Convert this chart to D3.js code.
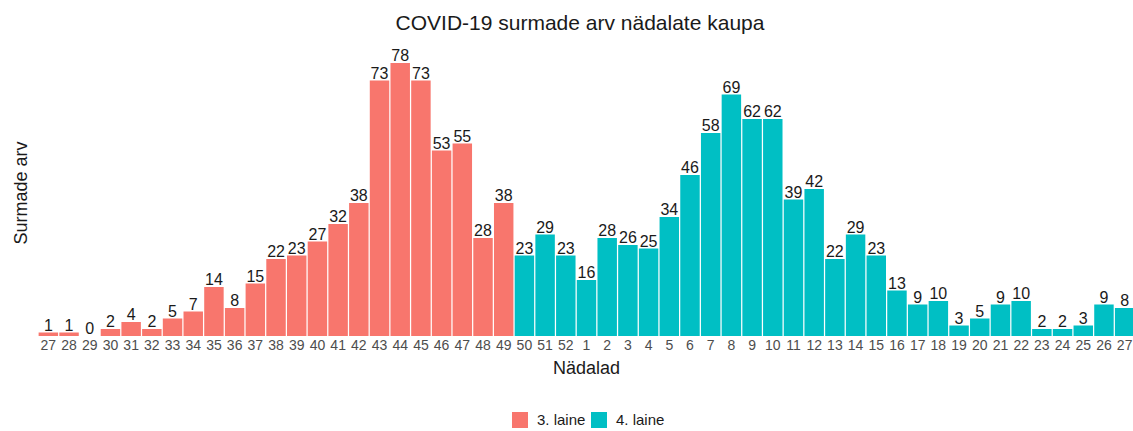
<!DOCTYPE html>
<html>
<head>
<meta charset="utf-8">
<script src="https://cdn.jsdelivr.net/npm/d3@7"></script>
<style>
  body { margin: 0; background: #fff; }
  text { font-family: "Liberation Sans", Arial, sans-serif; }
</style>
</head>
<body>
<svg id="mainsvg" width="1133" height="431"></svg>
<script>
// week labels and deaths, in order
const weeks3 = ["27","28","29","30","31","32","33","34","35","36","37","38","39","40","41","42","43","44","45","46","47","48","49"];
const deaths3 = [1,1,0,2,4,2,5,7,14,8,15,22,23,27,32,38,73,78,73,53,55,28,38];
const weeks4 = ["50","51","52","1","2","3","4","5","6","7","8","9","10","11","12","13","14","15","16","17","18","19","20","21","22","23","24","25","26","27"];
const deaths4 = [23,29,23,16,28,26,25,34,46,58,69,62,62,39,42,22,29,23,13,9,10,3,5,9,10,2,2,3,9,8];
const waves = ["3. laine", "4. laine"];
const colors = ["#f8766d", "#00bfc4"];

const data = [];
weeks3.forEach((w, i) => data.push({key: "a" + w, week: w, value: deaths3[i], wave: waves[0]}));
weeks4.forEach((w, i) => data.push({key: "b" + w, week: w, value: deaths4[i], wave: waves[1]}));

const svg = d3.select("#mainsvg");
const plotL = 38, plotR = 1135, plotB = 336;

const x = d3.scaleBand().domain(data.map(d => d.key)).range([plotL, plotR]).paddingInner(0.06).paddingOuter(0.03);
const y = d3.scaleLinear().domain([0, 78]).range([plotB, 63]);
const color = d3.scaleOrdinal().domain(waves).range(colors);

svg.selectAll(".bar").data(data).join("rect")
  .attr("class", "bar")
  .attr("x", d => x(d.key))
  .attr("y", d => y(d.value))
  .attr("width", x.bandwidth())
  .attr("height", d => plotB - y(d.value))
  .attr("fill", d => color(d.wave));

svg.selectAll(".lbl").data(data).join("text")
  .attr("class", "lbl")
  .attr("x", d => x(d.key) + x.bandwidth() / 2)
  .attr("y", d => y(d.value) - 2)
  .attr("text-anchor", "middle")
  .attr("font-size", 16)
  .attr("fill", "#1a1a1a")
  .text(d => d.value);

// x axis
const xAxis = svg.append("g")
  .attr("transform", `translate(0,${plotB})`)
  .call(d3.axisBottom(x).tickSize(0).tickPadding(4).tickFormat(k => data.find(d => d.key === k).week));
xAxis.select(".domain").remove();
xAxis.selectAll("text")
  .attr("font-size", 14)
  .attr("fill", "#4d4d4d")
  .style("font-family", "'Liberation Sans', Arial, sans-serif");

svg.append("text")
  .attr("x", (plotL + plotR) / 2)
  .attr("y", 374)
  .attr("text-anchor", "middle")
  .attr("font-size", 18)
  .attr("fill", "#1a1a1a")
  .text("Nädalad");

svg.append("text")
  .attr("transform", "translate(27,193) rotate(-90)")
  .attr("text-anchor", "middle")
  .attr("font-size", 18)
  .attr("fill", "#1a1a1a")
  .text("Surmade arv");

svg.append("text")
  .attr("x", 580)
  .attr("y", 30)
  .attr("text-anchor", "middle")
  .attr("font-size", 21)
  .attr("fill", "#1a1a1a")
  .text("COVID-19 surmade arv nädalate kaupa");

// legend
const legendX = [512, 591];
const lg = svg.selectAll(".leg").data(waves).join("g")
  .attr("class", "leg")
  .attr("transform", (d, i) => `translate(${legendX[i]},412)`);
lg.append("rect")
  .attr("width", 16).attr("height", 16)
  .attr("fill", d => color(d));
lg.append("text")
  .attr("x", 25).attr("y", 13)
  .attr("font-size", 15)
  .attr("fill", "#1a1a1a")
  .text(d => d);
</script>
</body>
</html>
